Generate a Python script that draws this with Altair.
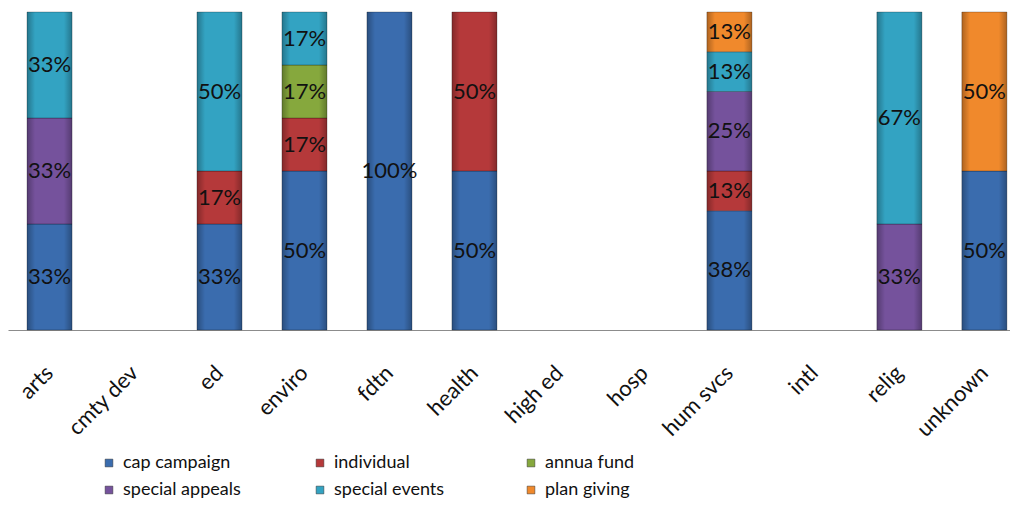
import altair as alt
import pandas as pd

categories = ["arts", "cmty dev", "ed", "enviro", "fdtn", "health",
              "high ed", "hosp", "hum svcs", "intl", "relig", "unknown"]
series = ["cap campaign", "individual", "annua fund",
          "special appeals", "special events", "plan giving"]
colors = ["#3a6cae", "#b5393a", "#86a83d", "#75529c", "#33a3c2", "#f0892c"]

# counts per series for each category (shares shown as % of the category)
cap_campaign = [1, 0, 2, 3, 1, 1, 0, 0, 3, 0, 0, 1]
individual = [0, 0, 1, 1, 0, 1, 0, 0, 1, 0, 0, 0]
annua_fund = [0, 0, 0, 1, 0, 0, 0, 0, 0, 0, 0, 0]
special_appeals = [1, 0, 0, 0, 0, 0, 0, 0, 2, 0, 1, 0]
special_events = [1, 0, 3, 1, 0, 0, 0, 0, 1, 0, 2, 0]
plan_giving = [0, 0, 0, 0, 0, 0, 0, 0, 1, 0, 0, 1]

values = [cap_campaign, individual, annua_fund, special_appeals, special_events, plan_giving]
rows = []
for si, (s, vals) in enumerate(zip(series, values)):
    for c, v in zip(categories, vals):
        if v > 0:
            rows.append({"category": c, "series": s, "idx": si, "count": v})
df = pd.DataFrame(rows)

FONT = "Lato"

x_enc = alt.X("category:N", sort=categories,
              scale=alt.Scale(domain=categories, paddingInner=0.47,
                              paddingOuter=0.13, align=0.86),
              axis=alt.Axis(title=None, labelAngle=-45, labelFontSize=22,
                            labelFont=FONT, labelColor="#111", labelPadding=39,
                            ticks=False, domainColor="#8c8c8c", domainWidth=1.2,
                            labelAlign="right", labelBaseline="middle"))
color_enc = alt.Color("series:N", sort=series,
                      scale=alt.Scale(domain=series, range=colors),
                      legend=alt.Legend(title=None, orient="none", legendX=92, legendY=442,
                                        columns=3, direction="horizontal",
                                        gridAlign="all", columnPadding=70, rowPadding=9,
                                        symbolType="square", symbolSize=60,
                                        symbolStrokeWidth=0.5, symbolStrokeColor="#333",
                                        labelFont=FONT, labelFontSize=18, labelColor="#111",
                                        labelOffset=5, labelLimit=300))

bars = alt.Chart(df).mark_bar(stroke="#000", strokeOpacity=0.25, strokeWidth=1).encode(
    x=x_enc,
    y=alt.Y("count:Q", stack="normalize", axis=None,
            scale=alt.Scale(domain=[0, 1], nice=False)),
    color=color_enc,
    order=alt.Order("idx:Q", sort="ascending"),
)

shade = alt.Chart(df).mark_bar(
    fill={"gradient": "linear", "x1": 0, "x2": 1, "y1": 0, "y2": 0,
          "stops": [{"offset": 0, "color": "rgba(0,0,0,0.28)"},
                    {"offset": 0.18, "color": "rgba(0,0,0,0)"},
                    {"offset": 0.82, "color": "rgba(0,0,0,0)"},
                    {"offset": 1, "color": "rgba(0,0,0,0.28)"}]}
).encode(
    x=alt.X("category:N", sort=categories),
    y=alt.Y("count:Q", stack="normalize"),
    order=alt.Order("idx:Q", sort="ascending"),
    detail="series:N",
)

labels = alt.Chart(df).transform_stack(
    stack="count", groupby=["category"], sort=[alt.SortField("idx", order="ascending")],
    as_=["y0", "y1"], offset="normalize"
).transform_calculate(
    mid="(datum.y0 + datum.y1) / 2",
    share="datum.y1 - datum.y0",
).mark_text(font=FONT, fontSize=22, color="#111", baseline="middle", align="center").encode(
    x=alt.X("category:N", sort=categories),
    y=alt.Y("mid:Q"),
    text=alt.Text("share:Q", format=".0%"),
)

chart = alt.layer(bars, shade, labels).properties(
    width=1002, height=318,
    autosize=alt.AutoSizeParams(type="none"),
    padding={"left": 0, "top": 4, "right": 0, "bottom": 180},
).configure_view(stroke=None).configure_axis(grid=False)

chart.save("out.html", embed_options={"renderer": "svg", "actions": False})
